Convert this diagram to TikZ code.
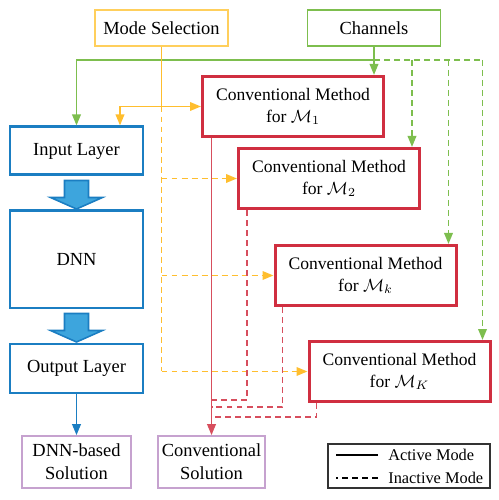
\documentclass[tikz,border=0pt]{standalone}
\usepackage{fontspec}
\setmainfont{Liberation Serif}
\usepackage{amsmath}
\usetikzlibrary{arrows.meta,calc,positioning}
\definecolor{modeYellow}{HTML}{FFBE2E}
\definecolor{modeYellowLight}{HTML}{FFCF5C}
\definecolor{chanGreen}{HTML}{7DBE4E}
\definecolor{convRed}{HTML}{D02F40}
\definecolor{dnnBlue}{HTML}{1B7EC2}
\definecolor{dnnBlueLight}{HTML}{3DA5DD}
\definecolor{solPurple}{HTML}{C6A2CF}
\definecolor{legGray}{HTML}{333333}
\tikzset{
  base font/.style={font=\fontsize{10.5}{12.9}\selectfont},
  top box/.style={line width=1.1pt, fill=white, minimum width=2.66cm,
    minimum height=0.72cm, inner sep=0pt, base font},
  layer box/.style={draw=dnnBlue, line width=1.7pt, minimum width=2.66cm,
    align=center, inner sep=0pt, base font},
  method box/.style={draw=convRed, line width=1.7pt, fill=white,
    minimum width=3.62cm, minimum height=1.2cm, align=center,
    inner sep=0pt, font=\fontsize{10}{12.3}\selectfont},
  solution box/.style={draw=solPurple, line width=0.9pt,
    minimum height=1.04cm, align=center, inner sep=0pt, base font},
  tip/.style={-{Triangle[length=2.2mm, width=1.7mm]}},
  mode line/.style={line width=1.1pt, draw=modeYellow},
  chan line/.style={line width=1.1pt, draw=chanGreen},
  conv line/.style={line width=1.1pt, draw=convRed!85},
  inactive/.style={dash pattern=on 3.4pt off 2.3pt},
  fat arrow/.style={draw=dnnBlue, fill=dnnBlueLight, line width=0.9pt},
  legend text/.style={font=\fontsize{9.3}{11}\selectfont, anchor=west,
    inner sep=0pt}
}

\begin{document}
\begin{tikzpicture}
  \useasboundingbox (0,0) rectangle (9.96,10);
  % inputs at the top
  \node[top box, draw=modeYellowLight] (ms) at (3.23,9.44) {Mode Selection};
  \node[top box, draw=chanGreen] (ch) at (7.48,9.44) {Channels};

  % DNN branch
  \node[layer box, minimum height=0.96cm] (input) at (1.53,6.98) {Input Layer};
  \node[layer box, minimum height=1.94cm] (dnn) at (1.53,4.81) {DNN};
  \node[layer box, minimum height=0.98cm] (output) at (1.53,2.63) {Output Layer};
  \node[solution box, minimum width=2.18cm] (dnnsol) at (1.53,0.76)
    {DNN-based\\Solution};
  \foreach \a in {input,dnn}
    \draw[fat arrow] ($(\a.south)+(-0.24,-0.08)$) -- ++(0.48,0) -- ++(0,-0.34)
      -- ++(0.28,0) -- ($(\a.south)+(0,-0.65)$) -- ++(-0.52,0.23)
      -- ++(0.28,0) -- cycle;
  \draw[tip, line width=1.1pt, draw=dnnBlue] (output) -- (dnnsol);

  % conventional methods
  \node[method box] (cm1) at (5.86,7.87) {Conventional Method\\for $\mathcal{M}_1$};
  \node[method box] (cm2) at (6.58,6.43) {Conventional Method\\for $\mathcal{M}_2$};
  \node[method box] (cmk) at (7.31,4.49) {Conventional Method\\for $\mathcal{M}_k$};
  \node[method box] (cmK) at (7.99,2.57) {Conventional Method\\for $\mathcal{M}_K$};
  \node[solution box, minimum width=2.14cm] (convsol) at (4.23,0.76)
    {Conventional\\Solution};

  % channels
  \coordinate (gj) at ($(ch.south)+(0,-0.26)$);
  \draw[chan line, tip] (gj) -| (input.north);
  \draw[chan line, tip] (ch.south) -- (ch.south |- cm1.north);
  \draw[chan line, inactive] (gj) -- ([xshift=-0.18cm]cmK.north east |- gj);
  \foreach \m in {cm2,cmk,cmK}
    \draw[chan line, inactive, tip]
      ([xshift=-0.18cm]\m.north east |- gj) -- ([xshift=-0.18cm]\m.north east);

  % mode selection
  \coordinate (yj) at (ms.south |- cm1.west);
  \draw[mode line] (ms.south) -- (yj);
  \draw[mode line, tip] (yj) -| ([xshift=0.87cm]input.north);
  \draw[mode line, tip] (yj) -- (cm1.west);
  \draw[mode line, inactive] (yj) -- (yj |- cmK.west);
  \foreach \m in {cm2,cmk,cmK}
    \draw[mode line, inactive, tip] (yj |- \m.west) -- (\m.west);

  % outputs of the methods
  \draw[conv line, tip] (convsol.north |- cm1.south) -- (convsol.north);
  \draw[conv line, inactive] ([xshift=0.2cm]cm2.south west)
    |- ([yshift=0.7cm]convsol.north);
  \draw[conv line, inactive] ([xshift=0.18cm]cmk.south west)
    |- ([yshift=0.56cm]convsol.north);
  \draw[conv line, inactive] ([xshift=0.18cm]cmK.south west)
    |- ([yshift=0.36cm]convsol.north);

  % legend
  \node[draw=legGray, line width=1pt, minimum width=3.24cm,
    minimum height=0.88cm] (leg) at (8.18,0.68) {};
  \node[legend text] (act) at (7.76,0.9) {Active Mode};
  \node[legend text] (inact) at (7.76,0.44) {Inactive Mode};
  \draw[line width=1pt] ([xshift=-0.2cm]act.west) -- ++(-0.84,0);
  \draw[line width=1pt, inactive] ([xshift=-0.2cm]inact.west) -- ++(-0.84,0);
\end{tikzpicture}
\end{document}
